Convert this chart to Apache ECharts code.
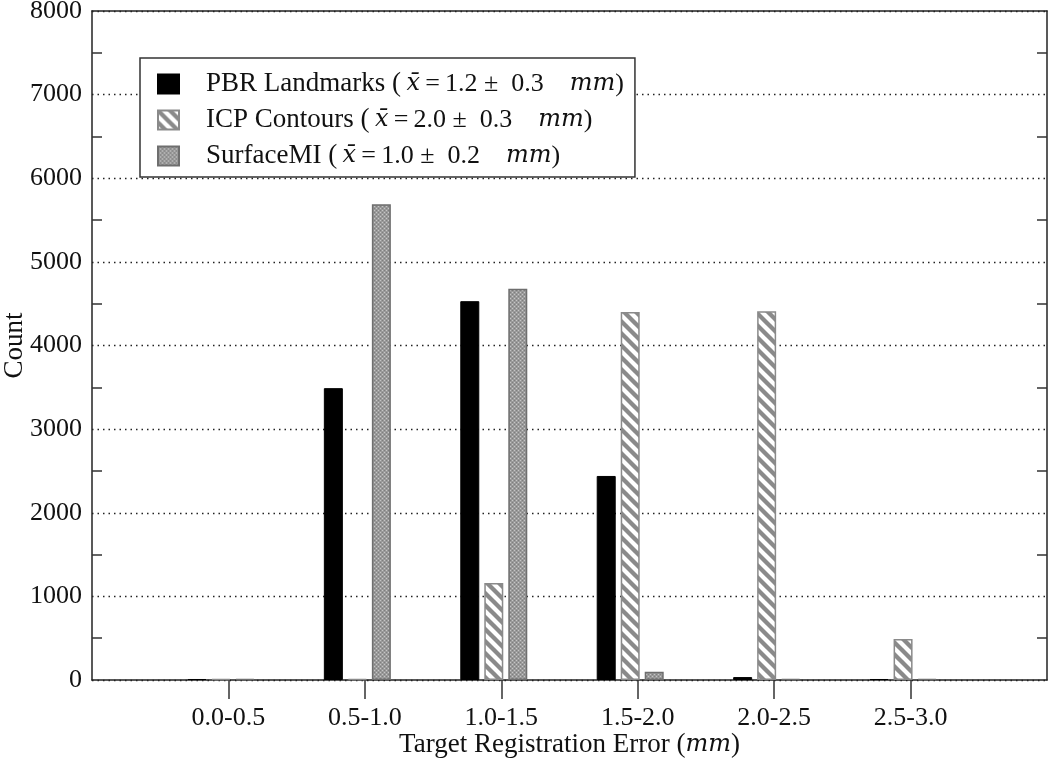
<!DOCTYPE html>
<html><head><meta charset="utf-8">
<script src="https://cdn.jsdelivr.net/npm/echarts@6/dist/echarts.min.js"></script>
<style>html,body{margin:0;padding:0;background:#fff}#c{width:1050px;height:763px}</style>
</head><body><div id="c"></div>
<script>
// ---- data ----
const categories = ['0.0-0.5', '0.5-1.0', '1.0-1.5', '1.5-2.0', '2.0-2.5', '2.5-3.0'];
const pbrLandmarks = [12, 3490, 4530, 2440, 35, 12];
const icpContours  = [12, 12, 1160, 4400, 4410, 490];
const surfaceMI    = [12, 5690, 4680, 100, 12, 12];
const seriesNames  = ['PBR Landmarks', 'ICP Contours', 'SurfaceMI'];
const seriesMeans  = ['1.2', '2.0', '1.0'];
const seriesSDs    = ['0.3', '0.3', '0.2'];
const yMin = 0, yMax = 8000, yStep = 1000;

// ---- styling helpers ----
const FONT = 'Liberation Serif';
const IFONT = 'DejaVu Serif';
const FS = 26;
function hatchPattern() {
  const c = document.createElement('canvas'); c.width = c.height = 12;
  const g = c.getContext('2d');
  g.fillStyle = '#fff'; g.fillRect(0, 0, 12, 12);
  g.strokeStyle = '#8a8a8a'; g.lineWidth = 4.3;
  [-12, 0, 12].forEach(k => { g.beginPath(); g.moveTo(k - 3, -3); g.lineTo(k + 15, 15); g.stroke(); });
  return c;
}
function stipplePattern() {
  const c = document.createElement('canvas'); c.width = c.height = 4;
  const g = c.getContext('2d');
  g.fillStyle = '#9a9a9a'; g.fillRect(0, 0, 4, 4);
  g.fillStyle = '#c6c6c6'; g.fillRect(0, 0, 1, 1); g.fillRect(2, 2, 1, 1);
  g.fillStyle = '#7e7e7e'; g.fillRect(2, 0, 1, 1); g.fillRect(0, 2, 1, 1);
  return c;
}
const styles = [
  { color: '#000', borderColor: '#000', borderWidth: 1 },
  { color: { image: hatchPattern(), repeat: 'repeat' }, borderColor: '#8a8a8a', borderWidth: 1.5 },
  { color: { image: stipplePattern(), repeat: 'repeat' }, borderColor: '#6e6e6e', borderWidth: 1.5 }
];
const seriesData = [pbrLandmarks, icpContours, surfaceMI];

const gridLeft = 92, gridRight = 3, gridTop = 11, gridBottom = 83;
const xMin = -1, xMax = categories.length;
const unitPx = (1050 - gridLeft - gridRight) / (xMax - xMin);
const barOffsetPx = [-31.5, -7.5, 16.5];
const catIdx = categories.map((_, i) => i);

const rich = {
  n: { fontFamily: FONT, fontSize: 27, color: '#111' },
  t: { fontFamily: FONT, fontSize: FS, color: '#111' },
  it: { fontFamily: IFONT, fontSize: 24, fontStyle: 'italic', color: '#111' }
};

const chart = echarts.init(document.getElementById('c'), null, { renderer: 'canvas' });
chart.setOption({
  animation: false,
  backgroundColor: '#fff',
  grid: { left: gridLeft, right: gridRight, top: gridTop, bottom: gridBottom, containLabel: false, outerBoundsMode: 'none' },
  legend: {
    orient: 'vertical', left: 140, top: 58,
    padding: [11, 11, 6, 17],
    itemWidth: 21, itemHeight: 19, itemGap: 6,
    icon: 'rect',
    borderColor: '#333', borderWidth: 1.5, backgroundColor: '#fff',
    data: seriesNames,
    textStyle: { fontFamily: FONT, fontSize: FS, color: '#111', lineHeight: 30, padding: [0, 0, 0, 22], rich: rich },
    formatter: function (name) {
      const i = seriesNames.indexOf(name);
      return '{n|' + name + ' (\u2009}{it|x\u0304}{t|\u2009=\u2009' + seriesMeans[i] + ' \u00b1  ' + seriesSDs[i] + '    }{it|mm}{t|)}';
    }
  },
  xAxis: [{
    type: 'value', min: xMin, max: xMax, interval: 1, position: 'bottom',
    axisLine: { show: true, onZero: false, lineStyle: { color: '#222', width: 1.5 } },
    axisTick: { show: true, length: 19, customValues: catIdx, lineStyle: { color: '#333', width: 1.5 } },
    axisLabel: { customValues: catIdx, formatter: v => categories[Math.round(v)], margin: 25,
      fontFamily: FONT, fontSize: FS, color: '#111' },
    splitLine: { show: false },
    name: '{n|Target Registration Error (}{it|mm}{n|)}',
    nameLocation: 'middle', nameGap: 51, nameMoveOverlap: false,
    nameTextStyle: { fontFamily: FONT, fontSize: 27, color: '#111', rich: rich }
  }, {
    type: 'value', min: xMin, max: xMax, interval: 1, position: 'top',
    axisLine: { show: true, onZero: false, lineStyle: { color: '#222', width: 1.5 } },
    axisTick: { show: false }, axisLabel: { show: false }, splitLine: { show: false }
  }],
  yAxis: [{
    type: 'value', min: yMin, max: yMax, interval: yStep, position: 'left',
    axisLine: { show: true, onZero: false, lineStyle: { color: '#222', width: 1.5 } },
    axisTick: { show: false, inside: true },
    minorTick: { show: true, splitNumber: 2, length: 10, lineStyle: { color: '#333', width: 1.5 } },
    axisLabel: { margin: 10, fontFamily: FONT, fontSize: FS, color: '#111', formatter: v => String(v) },
    splitLine: { show: true, lineStyle: { type: [1.5, 4], color: '#222', width: 1.3 } },
    name: 'Count', nameLocation: 'middle', nameGap: 64, nameMoveOverlap: false,
    nameTextStyle: { fontFamily: FONT, fontSize: 27, color: '#111' }
  }, {
    type: 'value', min: yMin, max: yMax, interval: yStep, position: 'right',
    axisLine: { show: true, onZero: false, lineStyle: { color: '#222', width: 1.5 } },
    axisTick: { show: false, inside: true },
    minorTick: { show: true, splitNumber: 2, length: 10, lineStyle: { color: '#333', width: 1.5 } },
    axisLabel: { show: false }, splitLine: { show: false }
  }],
  series: seriesNames.map((name, s) => ({
    type: 'bar', name: name, xAxisIndex: 0, yAxisIndex: 0,
    barWidth: 19, barGap: '-100%',
    itemStyle: styles[s],
    data: seriesData[s].map((v, i) => [i + barOffsetPx[s] / unitPx, v])
  }))
});
</script></body></html>
